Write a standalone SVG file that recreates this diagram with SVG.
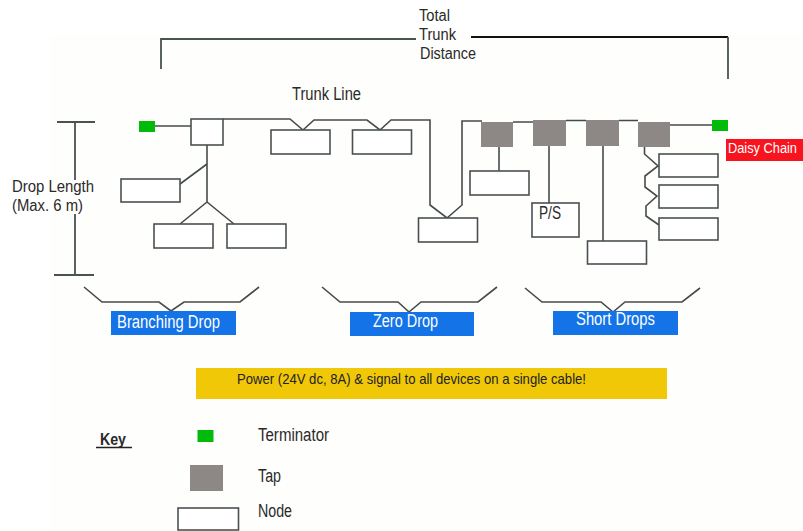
<svg xmlns="http://www.w3.org/2000/svg" width="803" height="531" viewBox="0 0 803 531">
<style>
text{font-family:"Liberation Sans",Arial,sans-serif;font-size:18px;fill:#2a2a2a}
.s{font-size:15px;fill:#222}
.w{fill:#fff}
.dz{font-size:13.800px}
.m{font-size:16px}
.n{fill:#fff;stroke:#4a5050;stroke-width:1.6}
.t{fill:#8d8785}
.g{fill:#00bb0a}
.l{fill:none;stroke:#454b4b;stroke-width:1.6}
.d{fill:none;stroke:#4a5252;stroke-width:1.8}
.b{fill:#1473e6}
</style>
<rect width="803" height="531" fill="#fff"/>
<rect x="50" y="35" width="753" height="496" fill="#fefefc"/>

<g id="connectors">
<path class="d" d="M161 69V39H416"/>
<path d="M471 37H728" fill="none" stroke="#111" stroke-width="1.8"/>
<path class="d" d="M728 37V79"/>
<path class="d" d="M57 122H95M75 122V180M75 214V275M54 275H94"/>
<path class="l" d="M155 126H191"/>
<path class="l" d="M223 119H290L303 130L314 120H367L380 130L391 120H430V205L447 218L462 205V121H482"/>
<path class="l" d="M513 122H533M566 120.500H586M619 120.500H638M670 125H712"/>
<path class="l" d="M207 145V202M207 164L180 184M207 202L180 224M207 202L234 224"/>
<path class="l" d="M499 147V171M549 146V203M603 146V241"/>
<path class="l" d="M644.500 147V154L658 166L645 176V187L657 196L646 206V216L659 225"/>
<path class="l" d="M84 287L102 302H159L171 311L184 302H240L259 287"/>
<path class="l" d="M322 287L340 302H398L409 312L421 302H478L497 287"/>
<path class="l" d="M525 288L542 302H601L613 312L625 302H682L700 288"/>
</g>

<g id="term-left"><rect class="g" x="139" y="121" width="16" height="11"/></g>
<g id="junction"><rect class="n" x="191" y="119" width="32" height="26"/></g>
<g id="node-a"><rect class="n" x="121" y="179" width="59" height="23"/></g>
<g id="node-b"><rect class="n" x="154" y="224" width="59" height="24"/></g>
<g id="node-c"><rect class="n" x="227" y="224" width="59" height="24"/></g>
<g id="node-d"><rect class="n" x="271" y="130" width="59" height="24"/></g>
<g id="node-e"><rect class="n" x="352.500" y="130" width="59" height="24"/></g>
<g id="node-f"><rect class="n" x="418.500" y="218" width="59" height="24"/></g>
<g id="tap-1"><rect class="t" x="481" y="122" width="32" height="25"/></g>
<g id="tap-2"><rect class="t" x="533" y="120" width="33" height="26"/></g>
<g id="tap-3"><rect class="t" x="586" y="120" width="33" height="26"/></g>
<g id="tap-4"><rect class="t" x="638" y="122" width="32" height="25"/></g>
<g id="term-right"><rect class="g" x="712" y="120" width="16" height="11"/></g>
<g id="node-g"><rect class="n" x="470" y="171" width="59" height="24"/></g>
<g id="node-ps"><rect class="n" x="532" y="203" width="47" height="34"/><text x="539" y="219" textLength="22" lengthAdjust="spacingAndGlyphs">P/S</text></g>
<g id="node-h"><rect class="n" x="587.500" y="241" width="59" height="23"/></g>
<g id="node-i"><rect class="n" x="659" y="154" width="59" height="23"/></g>
<g id="node-j"><rect class="n" x="659" y="185" width="59" height="23"/></g>
<g id="node-k"><rect class="n" x="659" y="218" width="59" height="22"/></g>

<g id="label-total"><text class="m" x="419" y="21" textLength="31" lengthAdjust="spacingAndGlyphs">Total</text><text class="m" x="419" y="40" textLength="37" lengthAdjust="spacingAndGlyphs">Trunk</text><text class="m" x="420" y="59" textLength="56" lengthAdjust="spacingAndGlyphs">Distance</text></g>
<g id="label-trunk"><text x="292" y="100" textLength="69" lengthAdjust="spacingAndGlyphs">Trunk Line</text></g>
<g id="label-drop"><text class="m" x="12" y="192" textLength="82" lengthAdjust="spacingAndGlyphs">Drop Length</text><text class="m" x="12" y="211" textLength="71" lengthAdjust="spacingAndGlyphs">(Max. 6 m)</text></g>
<g id="daisy"><rect x="726" y="139" width="77" height="22" fill="#f8141e"/><text class="dz w" x="728" y="153" textLength="69" lengthAdjust="spacingAndGlyphs">Daisy Chain</text></g>
<g id="branching"><rect class="b" x="111" y="311" width="125" height="24"/><text class="w" x="117" y="328" textLength="103" lengthAdjust="spacingAndGlyphs">Branching Drop</text></g>
<g id="zero"><rect class="b" x="350" y="312" width="124" height="24"/><text class="w" x="373" y="327" textLength="65" lengthAdjust="spacingAndGlyphs">Zero Drop</text></g>
<g id="short"><rect class="b" x="553" y="311" width="125" height="24"/><text class="w" x="576" y="325" textLength="79" lengthAdjust="spacingAndGlyphs">Short Drops</text></g>
<g id="power"><rect x="196" y="368" width="471" height="31" fill="#f0c808"/><text class="s" x="237" y="384" textLength="349" lengthAdjust="spacingAndGlyphs">Power (24V dc, 8A) &amp; signal to all devices on a single cable!</text></g>

<g id="key"><text x="100" y="445" style="font-weight:bold;font-size:17px" textLength="26" lengthAdjust="spacingAndGlyphs">Key</text><path d="M96 447.500H132" stroke="#222" stroke-width="1.6"/></g>
<g id="key-term"><rect class="g" x="197.500" y="430" width="16" height="12"/><text x="258" y="441" textLength="71" lengthAdjust="spacingAndGlyphs">Terminator</text></g>
<g id="key-tap"><rect class="t" x="190" y="465" width="33" height="26"/><text x="258" y="482" textLength="23" lengthAdjust="spacingAndGlyphs">Tap</text></g>
<g id="key-node"><rect class="n" x="178" y="508" width="60.500" height="22"/><text x="258" y="517" textLength="34" lengthAdjust="spacingAndGlyphs">Node</text></g>
</svg>
